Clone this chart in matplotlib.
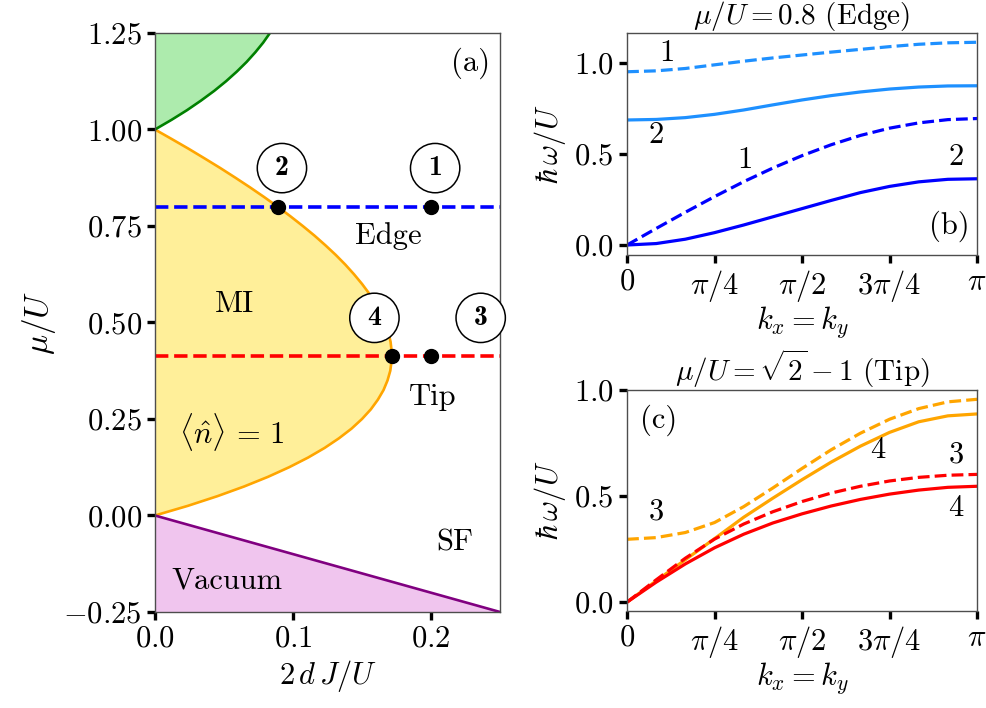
import numpy as np
import matplotlib
matplotlib.use("Agg")
import matplotlib.pyplot as plt

plt.rcParams['font.family'] = 'serif'
plt.rcParams['font.serif'] = ['cmr10']
plt.rcParams['mathtext.fontset'] = 'cm'
plt.rcParams['axes.formatter.use_mathtext'] = True
plt.rcParams['font.size'] = 22

# ---- panel (a): phase diagram ----
# MI lobe (<n>=1) boundary
lobe_mu = [0.000, 0.025, 0.050, 0.075, 0.100, 0.125, 0.150, 0.175, 0.200, 0.225,
           0.250, 0.275, 0.300, 0.325, 0.350, 0.375, 0.400, 0.425, 0.450, 0.475,
           0.500, 0.525, 0.550, 0.575, 0.600, 0.625, 0.650, 0.675, 0.700, 0.725,
           0.750, 0.775, 0.800, 0.825, 0.850, 0.875, 0.900, 0.925, 0.950, 0.975, 1.000]
lobe_x = [0.0000, 0.0238, 0.0452, 0.0645, 0.0818, 0.0972, 0.1109, 0.1229, 0.1333, 0.1424,
          0.1500, 0.1564, 0.1615, 0.1656, 0.1685, 0.1705, 0.1714, 0.1715, 0.1707, 0.1691,
          0.1667, 0.1635, 0.1597, 0.1552, 0.1500, 0.1442, 0.1379, 0.1310, 0.1235, 0.1156,
          0.1071, 0.0982, 0.0889, 0.0791, 0.0689, 0.0583, 0.0474, 0.0360, 0.0244, 0.0123, 0.0000]
# second lobe (green), lower edge
lobe2_mu = [1.000, 1.025, 1.050, 1.075, 1.100, 1.125, 1.150, 1.175, 1.200, 1.225, 1.250]
lobe2_x = [0.0000, 0.0120, 0.0232, 0.0334, 0.0429, 0.0515, 0.0593, 0.0664, 0.0727, 0.0784, 0.0833]
# vacuum boundary
vac_x = [0.0, 0.25]
vac_mu = [0.0, -0.25]
# cuts and marked points
mu_edge = 0.8
mu_tip = 0.414
pts_x = [0.200, 0.089, 0.200, 0.1716]
pts_mu = [0.8, 0.8, 0.414, 0.414]
pts_lab = ['1', '2', '3', '4']

# ---- panels (b), (c): dispersions, k = 0 .. pi in steps of pi/12 ----
k = np.linspace(0, np.pi, 13)
b_dash_light = [0.952, 0.957, 0.970, 0.990, 1.010, 1.028, 1.044, 1.060, 1.075, 1.090, 1.103, 1.111, 1.114]
b_solid_light = [0.687, 0.690, 0.700, 0.718, 0.742, 0.770, 0.797, 0.821, 0.841, 0.857, 0.868, 0.874, 0.875]
b_dash_dark = [0.000, 0.091, 0.180, 0.266, 0.348, 0.423, 0.491, 0.551, 0.602, 0.642, 0.671, 0.689, 0.695]
b_solid_dark = [0.000, 0.008, 0.032, 0.068, 0.110, 0.155, 0.200, 0.245, 0.288, 0.322, 0.347, 0.361, 0.364]

c_dash_orange = [0.296, 0.304, 0.328, 0.375, 0.450, 0.538, 0.630, 0.718, 0.796, 0.862, 0.912, 0.944, 0.956]
c_solid_orange = [0.000, 0.100, 0.200, 0.299, 0.400, 0.490, 0.577, 0.660, 0.735, 0.800, 0.850, 0.878, 0.887]
c_dash_red = [0.000, 0.105, 0.207, 0.297, 0.368, 0.426, 0.474, 0.514, 0.546, 0.571, 0.588, 0.598, 0.602]
c_solid_red = [0.000, 0.094, 0.180, 0.256, 0.320, 0.373, 0.416, 0.453, 0.484, 0.509, 0.528, 0.541, 0.546]

k_ticks = [0, np.pi / 4, np.pi / 2, 3 * np.pi / 4, np.pi]
k_labels = [r'$0$', r'$\pi/4$', r'$\pi/2$', r'$3\pi/4$', r'$\pi$']


def style(ax):
    for s in ax.spines.values():
        s.set_color('0.3')
        s.set_linewidth(1.0)
    ax.tick_params(direction='out', length=6, width=2.4, labelsize=22,
                   top=False, right=False, color='k')


fig = plt.figure(figsize=(9.87, 7.08), dpi=100)
axa = fig.add_axes([0.157, 0.1356, 0.3496, 0.8178])
axb = fig.add_axes([0.6353, 0.6398, 0.3546, 0.3136])
axc = fig.add_axes([0.6353, 0.137, 0.3546, 0.3122])

# (a)
axa.fill_betweenx(lobe_mu, 0, lobe_x, color='gold', alpha=0.4, lw=0)
axa.plot(lobe_x, lobe_mu, color='orange', lw=1.9)
axa.fill_betweenx(lobe2_mu, 0, lobe2_x, color='limegreen', alpha=0.4, lw=0)
axa.plot(lobe2_x, lobe2_mu, color='green', lw=1.9)
axa.fill_between(vac_x, vac_mu, -0.25, color='orchid', alpha=0.4, lw=0)
axa.plot(vac_x, vac_mu, color='purple', lw=1.9)
axa.plot([0, 0.25], [mu_edge, mu_edge], '--', color='blue', lw=2.6)
axa.plot([0, 0.25], [mu_tip, mu_tip], '--', color='red', lw=2.6)
axa.plot(pts_x, pts_mu, 'o', color='k', ms=10, zorder=5)
lab_pos = {'1': (0.203, 0.90), '2': (0.092, 0.90), '3': (0.236, 0.512), '4': (0.159, 0.512)}
for lab in pts_lab:
    axa.text(*lab_pos[lab], lab, family='cmb10', fontsize=20, ha='center', va='center',
             bbox=dict(boxstyle='circle,pad=0.42', fc='white', ec='k', lw=1.1))
axa.set_xlim(0, 0.25)
axa.set_ylim(-0.25, 1.25)
axa.set_xticks([0.0, 0.1, 0.2])
axa.set_yticks([-0.25, 0.0, 0.25, 0.5, 0.75, 1.0, 1.25])
axa.set_xlabel(r'$2\,d\,J/U$', fontsize=22)
axa.set_ylabel(r'$\mu/U$', fontsize=24)
axa.text(0.915, 0.947, '(a)', transform=axa.transAxes, ha='center', va='center')
axa.text(0.675, 0.649, 'Edge', transform=axa.transAxes, ha='center', va='center')
axa.text(0.23, 0.532, 'MI', transform=axa.transAxes, ha='center', va='center')
axa.text(0.223, 0.311, r'$\langle\hat{n}\rangle\,=\,1$', transform=axa.transAxes, ha='center', va='center')
axa.text(0.806, 0.37, 'Tip', transform=axa.transAxes, ha='center', va='center')
axa.text(0.87, 0.119, 'SF', transform=axa.transAxes, ha='center', va='center')
axa.text(0.209, 0.054, 'Vacuum', transform=axa.transAxes, ha='center', va='center')
style(axa)

# (b)
axb.plot(k, b_dash_light, '--', color='dodgerblue', lw=2.3)
axb.plot(k, b_solid_light, '-', color='dodgerblue', lw=2.3)
axb.plot(k, b_dash_dark, '--', color='blue', lw=2.3)
axb.plot(k, b_solid_dark, '-', color='blue', lw=2.3)
axb.set_xlim(0, np.pi)
axb.set_ylim(-0.055, 1.165)
axb.set_yticks([0.0, 0.5, 1.0])
axb.set_xticks(k_ticks)
axb.set_xticklabels(k_labels)
axb.set_xlabel(r'$k_x = k_y$', fontsize=22, labelpad=0)
axb.set_ylabel(r'$\hbar\,\omega/U$', fontsize=22)
axb.set_title(r'$\mu/U = 0.8$ (Edge)', fontsize=21, pad=4)
for (tx, ty, s) in [(0.114, 0.91, '1'), (0.083, 0.54, '2'), (0.337, 0.428, '1'),
                    (0.94, 0.44, '2'), (0.92, 0.128, '(b)')]:
    axb.text(tx, ty, s, transform=axb.transAxes, ha='center', va='center')
style(axb)

# (c)
axc.plot(k, c_dash_orange, '--', color='orange', lw=2.3)
axc.plot(k, c_solid_orange, '-', color='orange', lw=2.3)
axc.plot(k, c_dash_red, '--', color='red', lw=2.3)
axc.plot(k, c_solid_red, '-', color='red', lw=2.3)
axc.set_xlim(0, np.pi)
axc.set_ylim(-0.042, 1.0)
axc.set_yticks([0.0, 0.5, 1.0])
axc.set_xticks(k_ticks)
axc.set_xticklabels(k_labels)
axc.set_xlabel(r'$k_x = k_y$', fontsize=22, labelpad=0)
axc.set_ylabel(r'$\hbar\,\omega/U$', fontsize=22)
axc.set_title(r'$\mu/U = \sqrt{2}-1$ (Tip)', fontsize=21, pad=4)
for (tx, ty, s) in [(0.089, 0.864, '(c)'), (0.717, 0.729, '4'), (0.94, 0.706, '3'),
                    (0.083, 0.448, '3'), (0.94, 0.466, '4')]:
    axc.text(tx, ty, s, transform=axc.transAxes, ha='center', va='center')
style(axc)

fig.savefig('out.png', dpi=100)
